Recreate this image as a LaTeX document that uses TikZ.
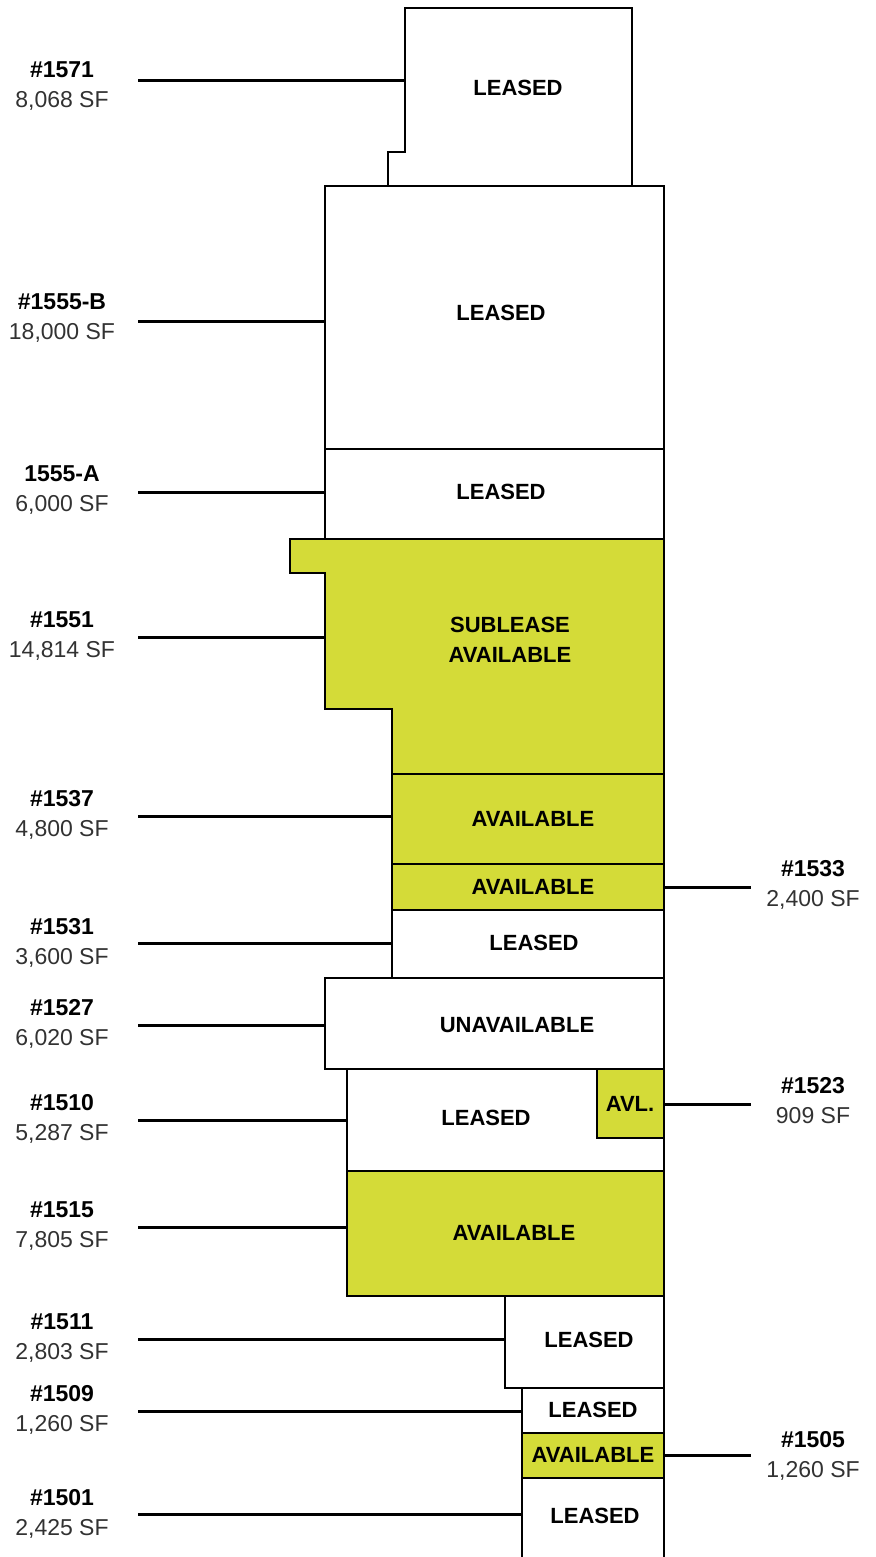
\documentclass[tikz,border=0pt]{standalone}
\usepackage{fontspec}
\setmainfont{Liberation Sans}
\usetikzlibrary{positioning}
\definecolor{availgreen}{RGB}{212,219,56}
\definecolor{sfgray}{RGB}{50,50,50}

\begin{document}
\begin{tikzpicture}[
  x=0.5pt, y=-0.5pt,
  unit/.style={draw=black, line width=1pt, fill=white},
  avail/.style={draw=black, line width=1pt, fill=availgreen},
  unittext/.style={font=\bfseries\fontsize{11}{15}\selectfont, align=center, inner sep=0pt},
  suiteleft/.style={align=center, inner sep=0pt, minimum width=76pt, font=\fontsize{11.5}{15}\selectfont, text=sfgray},
  suiteright/.style={align=center, inner sep=0pt, minimum width=62pt, font=\fontsize{11.5}{15}\selectfont, text=sfgray},
  leader/.style={line width=1.5pt}
]
\useasboundingbox (0,0) rectangle (875,1557);

% units (top to bottom)
\draw[unit] (405,8) -- (632,8) -- (632,186) -- (388,186) -- (388,152) -- (405,152) -- cycle;
\draw[unit] (325,186) rectangle (664,449);
\draw[unit] (325,449) rectangle (664,539);
\draw[avail] (290,539) -- (664,539) -- (664,774) -- (392,774) -- (392,709) -- (325,709) -- (325,573) -- (290,573) -- cycle;
\draw[avail] (392,774) rectangle (664,864);
\draw[avail] (392,864) rectangle (664,910);
\draw[unit] (392,910) rectangle (664,978);
\draw[unit] (325,978) rectangle (664,1069);
\draw[unit] (347,1069) rectangle (664,1171);
\draw[avail] (597,1069) rectangle (664,1138);
\draw[avail] (347,1171) rectangle (664,1296);
\draw[unit] (505,1296) rectangle (664,1388);
\draw[unit] (522,1388) rectangle (664,1433);
\draw[avail] (522,1433) rectangle (664,1478);
\draw[line width=1pt] (522,1560) -- (522,1478) -- (664,1478) -- (664,1560);

% unit status texts
\node[unittext] (t1571) at (518,88) {LEASED};
\node[unittext] (t1555b) at (501,313) {LEASED};
\node[unittext] (t1555a) at (501,492) {LEASED};
\node[unittext] (t1551) at (510,640) {SUBLEASE\\AVAILABLE};
\node[unittext] (t1537) at (533,819) {AVAILABLE};
\node[unittext] (t1533) at (533,887) {AVAILABLE};
\node[unittext] (t1531) at (534,943) {LEASED};
\node[unittext] (t1527) at (517,1025) {UNAVAILABLE};
\node[unittext] (t1510) at (486,1118) {LEASED};
\node[unittext] (t1523) at (630,1104) {AVL.};
\node[unittext] (t1515) at (514,1233) {AVAILABLE};
\node[unittext] (t1511) at (589,1340) {LEASED};
\node[unittext] (t1509) at (593,1410) {LEASED};
\node[unittext] (t1505) at (593,1455) {AVAILABLE};
\node[unittext] (t1501) at (595,1516) {LEASED};

% suite labels
\node[suiteleft] (s1571) at (62,86) {\textbf{\color{black}\#1571}\\8,068 SF};
\node[suiteleft] (s1555b) at (62,318) {\textbf{\color{black}\#1555-B}\\18,000 SF};
\node[suiteleft] (s1555a) at (62,490) {\textbf{\color{black}1555-A}\\6,000 SF};
\node[suiteleft] (s1551) at (62,636) {\textbf{\color{black}\#1551}\\14,814 SF};
\node[suiteleft] (s1537) at (62,815) {\textbf{\color{black}\#1537}\\4,800 SF};
\node[suiteleft] (s1531) at (62,943) {\textbf{\color{black}\#1531}\\3,600 SF};
\node[suiteleft] (s1527) at (62,1024) {\textbf{\color{black}\#1527}\\6,020 SF};
\node[suiteleft] (s1510) at (62,1119) {\textbf{\color{black}\#1510}\\5,287 SF};
\node[suiteleft] (s1515) at (62,1226) {\textbf{\color{black}\#1515}\\7,805 SF};
\node[suiteleft] (s1511) at (62,1338) {\textbf{\color{black}\#1511}\\2,803 SF};
\node[suiteleft] (s1509) at (62,1410) {\textbf{\color{black}\#1509}\\1,260 SF};
\node[suiteleft] (s1501) at (62,1514) {\textbf{\color{black}\#1501}\\2,425 SF};
\node[suiteright] (s1533) at (813,885) {\textbf{\color{black}\#1533}\\2,400 SF};
\node[suiteright] (s1523) at (813,1101) {\textbf{\color{black}\#1523}\\909 SF};
\node[suiteright] (s1505) at (813,1456) {\textbf{\color{black}\#1505}\\1,260 SF};

% leader ends on the unit walls
\coordinate (e1571) at (405,81);
\coordinate (e1555b) at (325,321);
\coordinate (e1555a) at (325,492);
\coordinate (e1551) at (325,637);
\coordinate (e1537) at (392,816);
\coordinate (e1531) at (392,943);
\coordinate (e1527) at (325,1025);
\coordinate (e1510) at (347,1120);
\coordinate (e1515) at (347,1227);
\coordinate (e1511) at (505,1339);
\coordinate (e1509) at (522,1411);
\coordinate (e1501) at (522,1514);
\coordinate (e1533) at (664,887);
\coordinate (e1523) at (664,1104);
\coordinate (e1505) at (664,1455);

% leaders
\foreach \s in {1571,1555b,1555a,1551,1537,1531,1527,1510,1515,1511,1509,1501}
  \draw[leader] (s\s.east |- e\s) -- (e\s);
\foreach \s in {1533,1523,1505}
  \draw[leader] (s\s.west |- e\s) -- (e\s);

\end{tikzpicture}
\end{document}
